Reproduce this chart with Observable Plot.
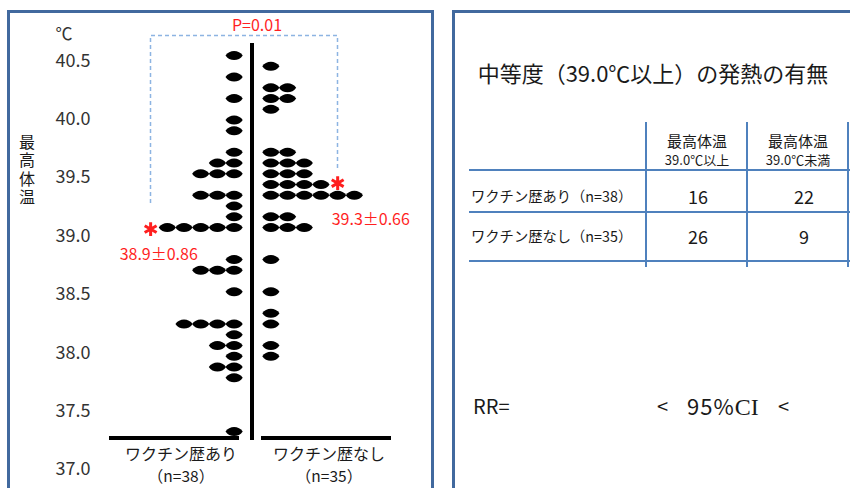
<!DOCTYPE html>
<html>
<head>
<meta charset="utf-8">
<script src="https://cdn.jsdelivr.net/npm/d3@7"></script>
<script src="https://cdn.jsdelivr.net/npm/@observablehq/plot@0.6"></script>
<style>
  html, body { margin: 0; padding: 0; background: #fff; }
  #fig { position: relative; width: 850px; height: 488px; overflow: hidden; background: #fff;
         font-family: "Noto Sans CJK JP", "Noto Sans", sans-serif; color: #1a1a1a; }
  .layer { position: absolute; left: 0; top: 0; }
  .panel { position: absolute; border: 3px solid #41699e; border-bottom: none; box-sizing: border-box; }
  .t { position: absolute; white-space: pre; line-height: 1; }
  .c { transform: translate(-50%, -50%); }
  .l { transform: translate(0, -50%); }
  .hline, .vline { position: absolute; background: #4f81bd; }
  .bar { position: absolute; background: #000; }
</style>
</head>
<body>
<div id="fig"></div>
<script>
// Peak body temperature (°C) of each patient, by influenza vaccination history
const groups = ["ワクチン歴あり", "ワクチン歴なし"];
const groupN = [38, 35];
const tempsVaccinated = [
  40.6, 40.4, 40.2, 40.0, 39.9, 39.7, 39.6, 39.6, 39.5, 39.5, 39.5,
  39.3, 39.3, 39.3, 39.2, 39.1, 39.0, 39.0, 39.0, 39.0, 39.0,
  38.7, 38.6, 38.6, 38.6, 38.4, 38.1, 38.1, 38.1, 38.1, 38.0,
  37.9, 37.9, 37.8, 37.7, 37.7, 37.6, 37.1
];
const tempsUnvaccinated = [
  40.5, 40.3, 40.3, 40.2, 40.2, 40.1, 39.7, 39.7, 39.6, 39.6, 39.6,
  39.5, 39.5, 39.5, 39.4, 39.4, 39.4, 39.4,
  39.3, 39.3, 39.3, 39.3, 39.3, 39.3, 39.1, 39.1, 39.0, 39.0, 39.0,
  38.7, 38.4, 38.2, 38.1, 37.9, 37.8
];
const groupMean = [38.9, 39.3];
const groupSD = [0.86, 0.66];
const pValue = 0.01;
const yTicks = [40.5, 40.0, 39.5, 39.0, 38.5, 38.0, 37.5, 37.0];

// 2x2 table: fever of 39.0°C or more
const tableTitle = "中等度（39.0℃以上）の発熱の有無";
const tableColumns = [["最高体温", "39.0℃以上"], ["最高体温", "39.0℃未満"]];
const tableRows = ["ワクチン歴あり（n=38）", "ワクチン歴なし（n=35）"];
const countsAbove = [16, 26];
const countsBelow = [22, 9];

const fig = document.getElementById("fig");
function put(cls, css, text) {
  const el = document.createElement("div");
  el.className = cls;
  Object.assign(el.style, css);
  if (text != null) el.textContent = text;
  fig.appendChild(el);
  return el;
}

// panel frames
put("panel", {left: "7px", top: "10px", width: "427px", height: "490px"});
put("panel", {left: "452px", top: "10px", width: "420px", height: "490px"});

// one row per temperature: dots at the same value are laid side by side, outward from the centre line
function stackRows(values, gi) {
  const seen = new Map();
  return values.map(v => {
    const key = Math.round(v * 10);
    const k = seen.get(key) ?? 0;
    seen.set(key, k + 1);
    return {group: groups[gi], temp: v, column: k, side: gi === 0 ? -1 : 1};
  });
}
const points = [...stackRows(tempsVaccinated, 0), ...stackRows(tempsUnvaccinated, 1)];

const centreX = 252, colW = 16.7, gap = 1.1, W = 440, H = 488;
const xScale = {domain: [-centreX / colW, (W - centreX) / colW], range: [0, W], axis: null};

// lens-shaped marker
const lens = {
  draw(ctx) {
    ctx.moveTo(-8.6, 0);
    ctx.bezierCurveTo(-5, -6, 5, -6, 8.6, 0);
    ctx.bezierCurveTo(5, 6, -5, 6, -8.6, 0);
    ctx.closePath();
  }
};

const summary = groups.map((g, i) => ({
  group: g, mean: groupMean[i], sd: groupSD[i], side: i === 0 ? -1 : 1,
  starColumn: i === 0 ? 5 : 4
}));
const starX = d => d.side * (gap + d.starColumn);
const red = "#ff1f1f";

// mean marker (asterisk) and "mean±SD" label for each group
function meanMarks(d, labelDx, labelDy, starDy) {
  return [
    Plot.dot([d], {x: starX, y: "mean", symbol: "asterisk", r: 6.5, stroke: red,
      strokeWidth: 3, dy: starDy}),
    Plot.text([d], {x: starX, y: "mean", text: v => `${v.mean.toFixed(1)}±${v.sd.toFixed(2)}`,
      textAnchor: "start", fill: red, fontSize: 16, fontFamily: "Noto Sans CJK JP",
      dx: labelDx, dy: labelDy})
  ];
}

const dotPlot = Plot.plot({
  width: W, height: H, margin: 0,
  style: {background: "transparent"},
  x: xScale,
  y: {domain: [37.1, 40.6], range: [431, 55], axis: null},
  marks: [
    Plot.dot(points, {x: d => d.side * (gap + d.column), y: "temp", symbol: lens, fill: "#000", stroke: null}),
    ...meanMarks(summary[0], -31, 17, -9),
    ...meanMarks(summary[1], -6, 25, -12)
  ]
});

const axisPlot = Plot.plot({
  width: W, height: H, marginLeft: 90, marginRight: 0, marginTop: 0, marginBottom: 0,
  style: {background: "transparent"},
  x: {axis: null},
  y: {domain: [37.0, 40.5], range: [469, 60.5], axis: null},
  marks: [
    Plot.axisY(yTicks, {
      anchor: "left", tickSize: 0, tickPadding: 0, label: null,
      tickFormat: d3.format(".1f"), fontSize: 18, fill: "#333", fontFamily: "Noto Sans CJK JP"
    })
  ]
});

for (const p of [axisPlot, dotPlot]) {
  const holder = put("layer", {width: W + "px", height: H + "px"});
  holder.appendChild(p);
}

// centre line and baselines
put("bar", {left: "250px", top: "43px", width: "4px", height: "397px"});
put("bar", {left: "109px", top: "436px", width: "130px", height: "4px"});
put("bar", {left: "261px", top: "436px", width: "130px", height: "4px"});

// axis unit and title
put("t c", {left: "64px", top: "32px", fontSize: "17px", color: "#333"}, "℃");
put("t", {left: "19px", top: "134px", fontSize: "16px", writingMode: "vertical-rl", letterSpacing: "2.3px", lineHeight: "1"}, "最高体温");

// group labels
const groupCx = [181, 329];
groups.forEach((g, i) => {
  put("t c", {left: groupCx[i] + "px", top: "453px", fontSize: "16px"}, g);
  put("t c", {left: groupCx[i] + "px", top: "476px", fontSize: "15.5px"}, `（n=${groupN[i]}）`);
});

// significance bracket
const ns = "http://www.w3.org/2000/svg";
const br = document.createElementNS(ns, "svg");
br.setAttribute("width", W); br.setAttribute("height", H);
br.setAttribute("class", "layer");
br.style.position = "absolute";
const path = document.createElementNS(ns, "path");
path.setAttribute("d", "M150.5,203 V35.5 H337.5 V168");
path.setAttribute("fill", "none");
path.setAttribute("stroke", "#8db4e2");
path.setAttribute("stroke-width", "1.5");
path.setAttribute("stroke-dasharray", "4 3");
br.appendChild(path);
fig.appendChild(br);
put("t c", {left: "257px", top: "24px", fontSize: "16px", color: red}, `P=${pValue.toFixed(2)}`);

// right panel: title and 2x2 table
put("t c", {left: "653px", top: "72px", fontSize: "22px"}, tableTitle);
const colX = [646, 747, 848];
const colCx = [697, 798];
const lineY = [170, 212, 261];
colX.forEach(x => put("vline", {left: (x - 0.75) + "px", top: "122px", width: "1.5px", height: "145px"}));
lineY.forEach(y => put("hline", {left: "469px", top: (y - 0.75) + "px", width: "385px", height: "1.5px"}));
tableColumns.forEach((c, i) => {
  put("t c", {left: colCx[i] + "px", top: "140px", fontSize: "15px"}, c[0]);
  put("t c", {left: colCx[i] + "px", top: "159px", fontSize: "13px"}, c[1]);
});
const rowCy = [196, 236];
tableRows.forEach((r, i) => {
  put("t l", {left: "471px", top: rowCy[i] + "px", fontSize: "14.3px"}, r);
  put("t c", {left: "698px", top: rowCy[i] + "px", fontSize: "18px"}, String(countsAbove[i]));
  put("t c", {left: "804px", top: rowCy[i] + "px", fontSize: "18px"}, String(countsBelow[i]));
});

// risk ratio line (left blank to be filled in)
put("t l", {left: "473px", top: "406px", fontSize: "20px"}, "RR=");
put("t l", {left: "657px", top: "406px", fontSize: "20px"}, "<");
const ci = put("t l", {left: "687px", top: "406px", fontSize: "22px", letterSpacing: "1px"}, "95%");
const ciSerif = document.createElement("span");
ciSerif.textContent = "CI";
ciSerif.style.fontFamily = "Liberation Serif, serif";
ciSerif.style.fontSize = "24px";
ciSerif.style.letterSpacing = "0px";
ci.appendChild(ciSerif);
put("t l", {left: "778px", top: "406px", fontSize: "20px"}, "<");
</script>
</body>
</html>
